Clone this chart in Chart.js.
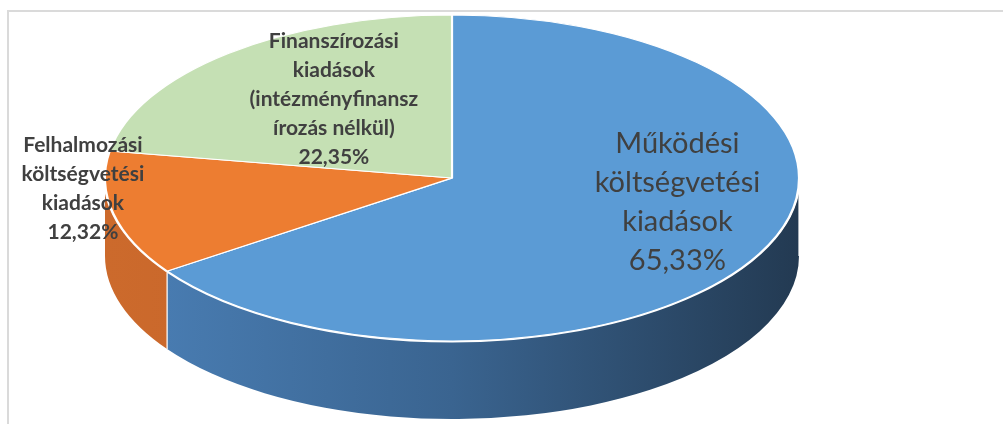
<!DOCTYPE html>
<html lang="hu">
<head>
<meta charset="utf-8"/>
<title>Kiadások megoszlása</title>
<script src="https://cdn.jsdelivr.net/npm/chart.js"></script>
<style>
    body { margin: 0; background: #fff; }
    #wrap { position: relative; width: 1003px; height: 424px; overflow: hidden; }
    #keret { position: absolute; left: 7px; top: 10px; width: 1100px; height: 500px; border: 2px solid #dadada; }
    #chart { position: absolute; left: 0; top: 0; }
</style>
</head>
<body>
<div id="wrap">
<div id="keret"></div>
<canvas id="chart" width="1003" height="424"></canvas>
</div>
<script>
    const kategoriak = [
        'Működési költségvetési kiadások',
        'Felhalmozási költségvetési kiadások',
        'Finanszírozási kiadások (intézményfinanszírozás nélkül)'
    ];
    const ertekek = [65.33, 12.32, 22.35];

    // felirat sorai, ahogy az eredeti ábrán törnek
    const feliratSorok = [
        ['Működési', 'költségvetési', 'kiadások'],
        ['Felhalmozási', 'költségvetési', 'kiadások'],
        ['Finanszírozási', 'kiadások', '(intézményfinansz', 'írozás nélkül)']
    ];

    const szinek = ['#5b9bd5', '#ed7d31', '#c5e0b4'];
    const oldalSzinek = [
        ['#4b80b7', '#3a6490', '#233a52'],
        ['#cc6a2c', '#c4622a', '#b85a26']
    ];
    const melyseg = 78;

    // felirat helye: sugár arány, függőleges eltolás, betű
    const feliratHely = [
        { k: 0.733, dy: -31, font: '29px Lato', sor: 39 },
        { k: 1.09, dy: -28, font: 'bold 21px Lato', sor: 29 },
        { k: 0.527, dy: -13, font: 'bold 21px Lato', sor: 29 }
    ];

    const szazalek = v => v.toFixed(2).replace('.', ',') + '%';

    const pie3d = {
        id: 'pie3d',
        beforeDatasetsDraw(chart) {
            const ctx = chart.ctx;
            const a = chart.chartArea;
            const arcs = chart.getDatasetMeta(0).data;
            const R = arcs[0].outerRadius;
            const cx = arcs[0].x, cy = arcs[0].y;
            const rx = (a.right - a.left) / 2, ry = (a.bottom - a.top) / 2;

            // oldalfal (csak az elülső fél látszik)
            arcs.forEach((arc, i) => {
                const s = Math.max(arc.startAngle, 0);
                const e = Math.min(arc.endAngle, Math.PI);
                if (e <= s) return;
                const g = ctx.createLinearGradient(cx - rx, 0, cx + rx, 0);
                const cs = oldalSzinek[i] || oldalSzinek[0];
                g.addColorStop(0, cs[0]);
                g.addColorStop(0.5, cs[1]);
                g.addColorStop(1, cs[2]);
                ctx.save();
                ctx.beginPath();
                ctx.ellipse(cx, cy, rx, ry, 0, s, e);
                ctx.ellipse(cx, cy + melyseg, rx, ry, 0, e, s, true);
                ctx.closePath();
                ctx.fillStyle = g;
                ctx.fill();
                ctx.strokeStyle = '#ffffff';
                ctx.lineWidth = 1.2;
                ctx.beginPath();
                ctx.moveTo(cx + rx * Math.cos(s), cy + ry * Math.sin(s));
                ctx.lineTo(cx + rx * Math.cos(s), cy + ry * Math.sin(s) + melyseg);
                ctx.stroke();
                // fehér perem a felső lap alatt
                ctx.lineWidth = 3;
                ctx.beginPath();
                ctx.ellipse(cx, cy, rx, ry, 0, s, e);
                ctx.stroke();
                ctx.restore();
            });

            // felső lap: kör -> ellipszis
            ctx.save();
            ctx.translate(cx, cy);
            ctx.scale(rx / R, ry / R);
            ctx.translate(-cx, -cy);
        },
        afterDatasetsDraw(chart) {
            const ctx = chart.ctx;
            ctx.restore();
            const a = chart.chartArea;
            const arcs = chart.getDatasetMeta(0).data;
            const cx = arcs[0].x, cy = arcs[0].y;
            const rx = (a.right - a.left) / 2, ry = (a.bottom - a.top) / 2;
            ctx.save();
            ctx.fillStyle = '#404040';
            ctx.textAlign = 'center';
            ctx.textBaseline = 'middle';
            arcs.forEach((arc, i) => {
                const h = feliratHely[i];
                const mid = (arc.startAngle + arc.endAngle) / 2;
                const x = cx + Math.cos(mid) * rx * h.k;
                const y = cy + Math.sin(mid) * ry * h.k + h.dy;
                const sorok = feliratSorok[i].concat([szazalek(ertekek[i])]);
                ctx.font = h.font;
                const y0 = y - (sorok.length - 1) * h.sor / 2;
                sorok.forEach((t, j) => ctx.fillText(t, x, y0 + j * h.sor));
            });
            ctx.restore();
        }
    };

    new Chart(document.getElementById('chart'), {
        type: 'pie',
        data: {
            labels: kategoriak,
            datasets: [{
                data: ertekek,
                backgroundColor: szinek,
                borderColor: '#ffffff',
                borderWidth: 1,
                clip: false
            }]
        },
        options: {
            responsive: false,
            animation: false,
            layout: { padding: { left: 105, right: 204, top: 15, bottom: 83 } },
            plugins: {
                legend: { display: false },
                tooltip: { enabled: false }
            }
        },
        plugins: [pie3d]
    });
</script>
</body>
</html>
